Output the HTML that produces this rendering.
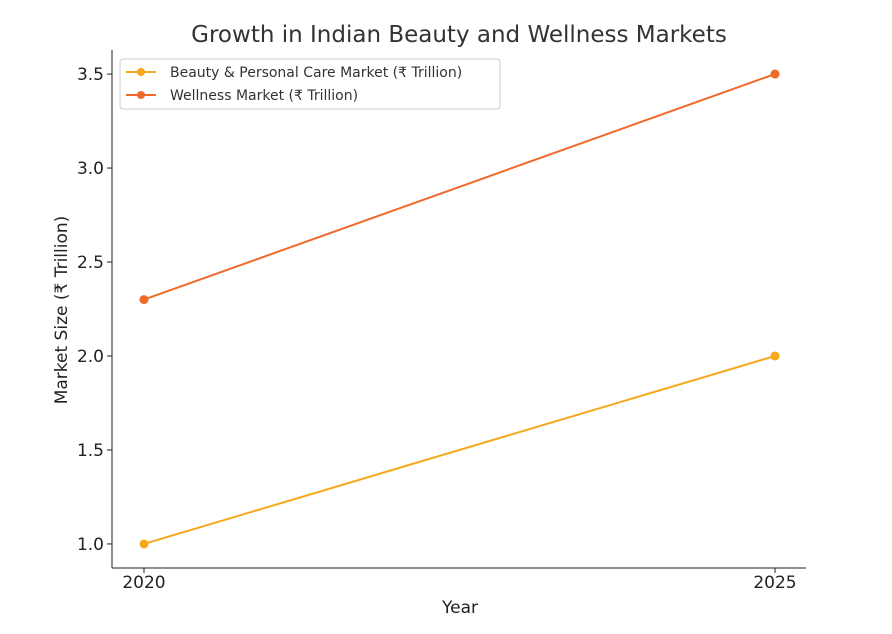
<!DOCTYPE html>
<html><head><meta charset="utf-8">
<style>
body{margin:0;background:#fff;}
svg{display:block;font-family:"DejaVu Sans","Liberation Sans",sans-serif;}
</style></head>
<body>
<svg id="chart" width="892" height="634">
<text x="459" y="42" text-anchor="middle" font-size="23" fill="#333">Growth in Indian Beauty and Wellness Markets</text>
<g id="axes"></g>
<g id="series"></g>
<text x="460" y="613" text-anchor="middle" font-size="17" fill="#222">Year</text>
<text transform="translate(67,310) rotate(-90)" text-anchor="middle" font-size="17" fill="#222">Market Size (₹ Trillion)</text>
<g>
<rect x="120" y="59" width="380" height="50" rx="3" fill="#fff" stroke="#ccc"/>
<g>
<line x1="126" y1="72" x2="156" y2="72" stroke="#f6a81a" stroke-width="2"/><circle cx="141" cy="72" r="4" fill="#f6a81a"/>
<text x="170" y="77" font-size="14" fill="#333">Beauty &amp; Personal Care Market (₹ Trillion)</text></g>
<g>
<line x1="126" y1="95" x2="156" y2="95" stroke="#ef6a2b" stroke-width="2"/><circle cx="141" cy="95" r="4" fill="#ef6a2b"/>
<text x="170" y="100" font-size="14" fill="#333">Wellness Market (₹ Trillion)</text></g>
</g>
</svg>
<script>
const years = ["2020", "2025"];
const beauty = [1.0, 2.0];
const wellness = [2.3, 3.5];
const yTicks = [1.0, 1.5, 2.0, 2.5, 3.0, 3.5];
const NS = "http://www.w3.org/2000/svg";
const L = 112, R = 806, T = 50, B = 568;
const yMin = 0.872, yMax = 3.628;
function x(i){ return 144 + i * (775 - 144) / (years.length - 1); }
function y(v){ return B - (v - yMin) / (yMax - yMin) * (B - T); }
function mk(tag, attrs, parent){ const e = document.createElementNS(NS, tag); for (const k in attrs) e.setAttribute(k, attrs[k]); parent.appendChild(e); return e; }
const axes = document.getElementById("axes");
const la = mk("line", {x1:L, y1:T, x2:L, y2:B, stroke:"#222", "stroke-width":1}, axes);


const ba = mk("line", {x1:L, y1:B, x2:R, y2:B, stroke:"#222", "stroke-width":1}, axes);


yTicks.forEach(v => {
  mk("line", {x1:L-5, y1:y(v), x2:L, y2:y(v), stroke:"#222"}, axes);
  const t = mk("text", {x:L-8, y:y(v)+6, "text-anchor":"end", "font-size":17, fill:"#222"}, axes);
  t.textContent = v.toFixed(1);
  
  
});
years.forEach((yr, i) => {
  mk("line", {x1:x(i), y1:B, x2:x(i), y2:B+5, stroke:"#222"}, axes);
  const t = mk("text", {x:x(i), y:B+20, "text-anchor":"middle", "font-size":17, fill:"#222"}, axes);
  t.textContent = yr;
  
  
});
const series = document.getElementById("series");
[[beauty, "#f6a81a", "beauty"], [wellness, "#ef6a2b", "wellness"]].forEach(([vals, col, nm]) => {
  const p = mk("polyline", {points: vals.map((v,i)=>x(i)+","+y(v)).join(" "), fill:"none", stroke:col, "stroke-width":2}, series);
  
  
  vals.forEach((v,i) => {
    const c = mk("circle", {cx:x(i), cy:y(v), r:4.5, fill:col}, series);
    
    
  });
});
</script>
</body></html>
